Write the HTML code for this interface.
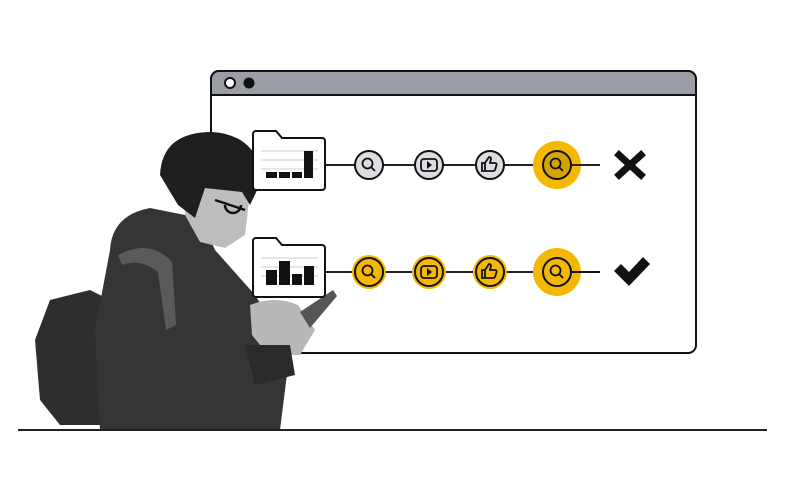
<!DOCTYPE html>
<html><head><style>body{margin:0;background:#fff}svg{display:block}</style></head><body>
<svg width="804" height="479" viewBox="0 0 804 479" xmlns="http://www.w3.org/2000/svg">
<rect width="804" height="479" fill="#fff"/>
<!-- window -->
<rect x="211" y="71" width="485" height="282" rx="8" fill="#fff" stroke="#111" stroke-width="2"/>
<path d="M211 95 V79 a8 8 0 0 1 8 -8 H688 a8 8 0 0 1 8 8 V95 Z" fill="#9a9ea4" stroke="#111" stroke-width="2"/>
<circle cx="230" cy="83" r="5" fill="#fff" stroke="#111" stroke-width="2"/>
<circle cx="249" cy="83" r="5.5" fill="#111"/>
<!-- person -->
<g>
<path d="M50 300 L90 290 L110 300 L105 425 L60 425 L40 400 L35 340 Z" fill="#2e2e2e"/>
<path d="M110 250 Q112 215 150 208 L200 218 L215 250 L255 295 L290 350 L280 430 L100 430 L95 330 Z" fill="#353535"/>
<path d="M118 255 Q150 238 172 262 L176 325 L166 330 L158 272 Q140 258 122 265 Z" fill="#5a5a5a"/>
<path d="M185 185 L250 192 L245 235 L225 248 L200 242 L185 215 Z" fill="#bdbdbd"/>
<path d="M160 175 Q162 132 212 132 Q258 135 262 180 L250 205 L242 192 L205 188 L195 218 L178 205 Z" fill="#1e1e1e"/>
<path d="M215 200 L245 210 M225 205 a8 8 0 1 0 16 0" stroke="#111" stroke-width="2.5" fill="none"/>
<path d="M250 305 Q275 295 298 305 L315 330 L300 355 L268 355 L252 335 Z" fill="#b8b8b8"/>
<path d="M300 312 L333 290 L337 296 L310 328 Z" fill="#555"/>
<path d="M245 345 L290 345 L295 375 L255 385 Z" fill="#2a2a2a"/>
</g>
<!-- lines -->
<line x1="325" y1="165" x2="600" y2="165" stroke="#222" stroke-width="2"/>
<line x1="325" y1="272" x2="600" y2="272" stroke="#222" stroke-width="2"/>
<!-- folders -->
<g stroke="#111" stroke-width="2" fill="#fff">
<path d="M256 131 H276 L282 138 H322 a3 3 0 0 1 3 3 V187 a3 3 0 0 1 -3 3 H256 a3 3 0 0 1 -3 -3 V134 a3 3 0 0 1 3 -3 Z"/>
<path d="M256 238 H276 L282 245 H322 a3 3 0 0 1 3 3 V294 a3 3 0 0 1 -3 3 H256 a3 3 0 0 1 -3 -3 V241 a3 3 0 0 1 3 -3 Z"/>
</g>
<g stroke="#ccc" stroke-width="1">
<line x1="261" y1="151" x2="318" y2="151"/><line x1="261" y1="160" x2="318" y2="160"/><line x1="261" y1="169" x2="318" y2="169"/>
<line x1="261" y1="258" x2="318" y2="258"/><line x1="261" y1="267" x2="318" y2="267"/><line x1="261" y1="276" x2="318" y2="276"/>
</g>
<g fill="#111">
<rect x="266" y="172" width="11" height="6"/><rect x="279" y="172" width="11" height="6"/><rect x="292" y="172" width="10" height="6"/><rect x="304" y="151" width="9" height="27"/>
<rect x="266" y="270" width="11" height="15"/><rect x="279" y="261" width="11" height="24"/><rect x="292" y="274" width="10" height="11"/><rect x="304" y="266" width="10" height="19"/>
</g>
<!-- row1 icons -->
<g stroke="#111" stroke-width="2" fill="#dcdde0">
<circle cx="369" cy="165" r="14"/><circle cx="429" cy="165" r="14"/><circle cx="490" cy="165" r="14"/>
</g>
<circle cx="557" cy="165" r="24" fill="#f5b800"/>
<circle cx="557" cy="165" r="14" fill="#d4a300" stroke="#111" stroke-width="2"/>
<line x1="571" y1="165" x2="600" y2="165" stroke="#222" stroke-width="2"/>
<!-- row2 icons -->
<g fill="#f5b800"><circle cx="369" cy="272" r="17"/><circle cx="429" cy="272" r="17"/><circle cx="490" cy="272" r="17"/><circle cx="557" cy="272" r="24"/></g>
<g stroke="#111" stroke-width="2" fill="none">
<circle cx="369" cy="272" r="14"/><circle cx="429" cy="272" r="14"/><circle cx="490" cy="272" r="14"/><circle cx="557" cy="272" r="14"/>
<line x1="571" y1="272" x2="600" y2="272"/>
</g>
<!-- glyphs -->
<g stroke="#111" stroke-width="1.8" fill="none">
<g transform="translate(369,165)"><circle cx="-1.5" cy="-1.5" r="5"/><line x1="2" y1="2" x2="6" y2="6"/></g>
<g transform="translate(557,165)"><circle cx="-1.5" cy="-1.5" r="5"/><line x1="2" y1="2" x2="6" y2="6"/></g>
<g transform="translate(369,272)"><circle cx="-1.5" cy="-1.5" r="5"/><line x1="2" y1="2" x2="6" y2="6"/></g>
<g transform="translate(557,272)"><circle cx="-1.5" cy="-1.5" r="5"/><line x1="2" y1="2" x2="6" y2="6"/></g>
<rect x="421" y="159" width="16" height="12" rx="3"/><rect x="421" y="266" width="16" height="12" rx="3"/>
<path d="M482 163 h3 v8 h-3 z M485 163 l4 -6 q2 0 2 2 l-1 4 h5 q2 0 1.5 2 l-1.5 5 q-0.5 1 -2 1 h-8"/>
<path d="M482 270 h3 v8 h-3 z M485 270 l4 -6 q2 0 2 2 l-1 4 h5 q2 0 1.5 2 l-1.5 5 q-0.5 1 -2 1 h-8"/>
</g>
<path d="M427 161 l5 4 l-5 4 z M427 268 l5 4 l-5 4 z" fill="#111"/>
<!-- X and check -->
<g stroke="#111" stroke-width="7" stroke-linecap="square">
<line x1="619" y1="155" x2="641" y2="175"/><line x1="641" y1="155" x2="619" y2="175"/>
</g>
<path d="M614 271 l7 -7 l8 8 l14 -15 l7 7 l-21 22 z" fill="#111"/>
<!-- ground -->
<line x1="18" y1="430" x2="767" y2="430" stroke="#222" stroke-width="2"/>
</svg>
</body></html>
